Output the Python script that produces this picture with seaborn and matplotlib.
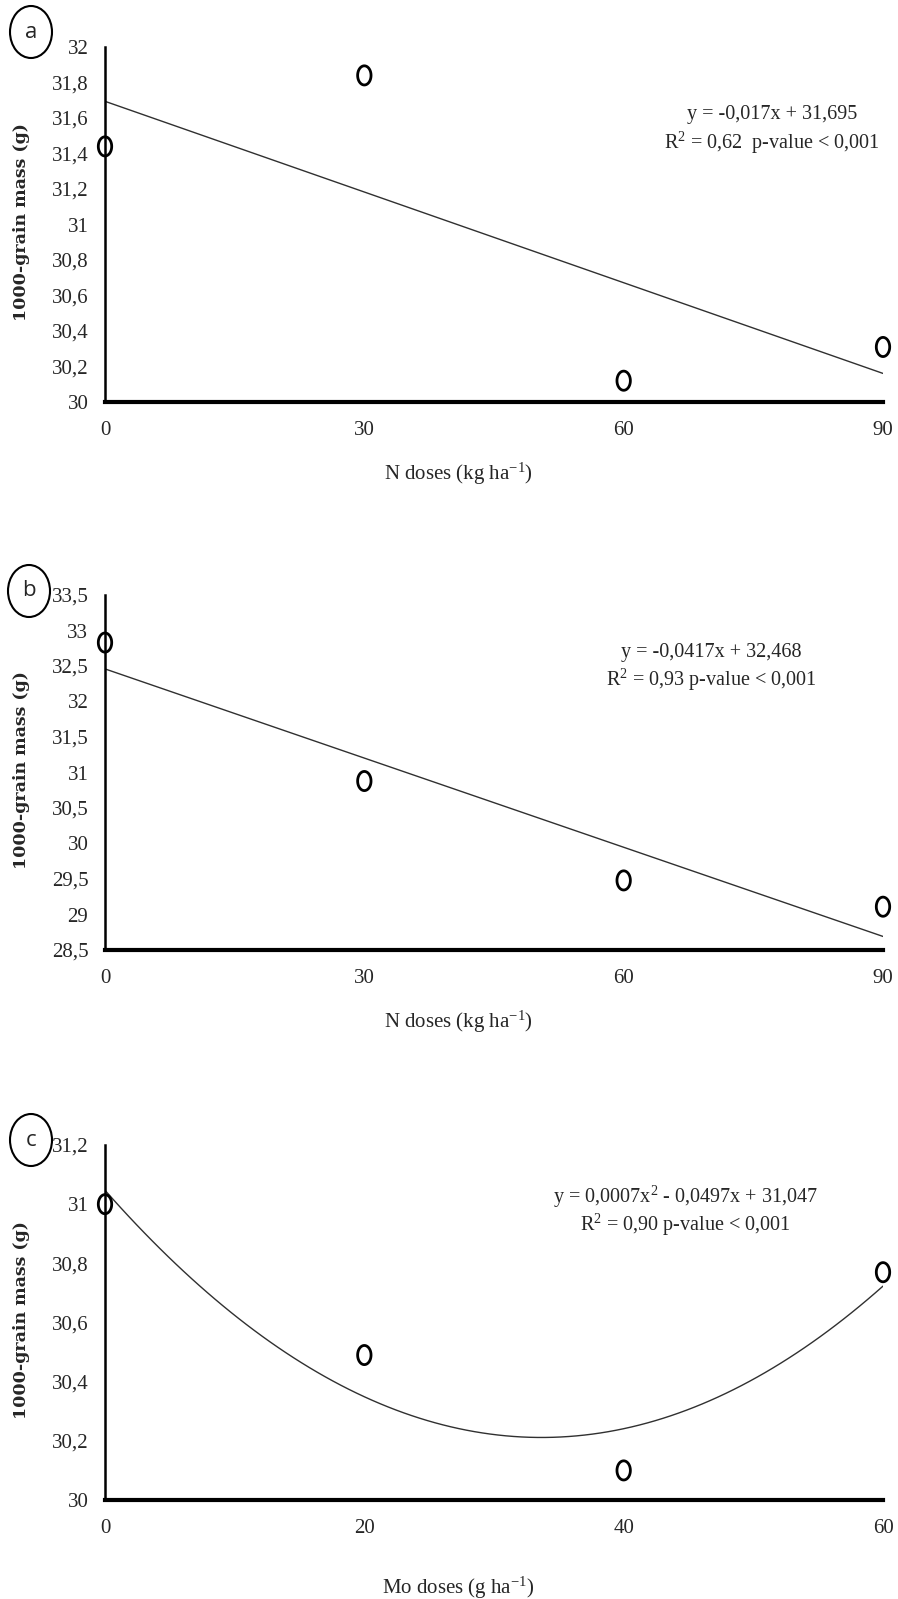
import numpy as np
import pandas as pd
import matplotlib
matplotlib.use('Agg')
import matplotlib.pyplot as plt
from matplotlib.patches import Ellipse
from matplotlib.path import Path
import seaborn as sns

# Data
n_doses = [0, 30, 60, 90]
mass_a = [31.44, 31.84, 30.12, 30.31]
mass_b = [32.83, 30.88, 29.48, 29.11]

mo_doses = [0, 20, 40, 60]
mass_c = [31.00, 30.49, 30.10, 30.77]

eq_a = ['y = -0,017x + 31,695', 'R$^2$ = 0,62  p-value < 0,001']
eq_b = ['y = -0,0417x + 32,468', 'R$^2$ = 0,93 p-value < 0,001']
eq_c = ['y = 0,0007x$^2$ - 0,0497x + 31,047', 'R$^2$ = 0,90 p-value < 0,001']

sns.set_style('white')
plt.rcParams['font.family'] = ['Liberation Serif', 'DejaVu Serif']
plt.rcParams['mathtext.fontset'] = 'custom'
plt.rcParams['mathtext.rm'] = 'Liberation Serif'
plt.rcParams['mathtext.default'] = 'regular'

# tall oval marker, like the stretched circles of the original
t = np.linspace(0, 2 * np.pi, 60)
oval = Path(np.column_stack([0.7 * np.cos(t), np.sin(t)]), closed=True)

fig = plt.figure(figsize=(8.98, 15.99), dpi=100)

panels = [
    # letter, x, y, order, ylim, ystep, xticks, xlabel, eq, axes bottom, eq pos (fig px), circle center (fig px), xlabel y
    ('a', n_doses, mass_a, 1, (30, 32), 0.2, n_doses, 'N doses (kg ha$^{-1}$)', eq_a, 1197, (772, 115), (31, 32), 474),
    ('b', n_doses, mass_b, 1, (28.5, 33.5), 0.5, n_doses, 'N doses (kg ha$^{-1}$)', eq_b, 649, (711, 652), (29, 591), 1022),
    ('c', mo_doses, mass_c, 2, (30, 31.2), 0.2, mo_doses, 'Mo doses (g ha$^{-1}$)', eq_c, 99, (685, 1197), (31, 1140), 1588),
]

W, H = 898, 1599
for letter, xs, ys, order, ylim, ystep, xticks, xlabel, eq, bottom, eqpos, cpos, xlab_y in panels:
    ax = fig.add_axes([105 / W, bottom / H, 778 / W, 355 / H])
    df = pd.DataFrame({'dose': xs, 'mass': ys})

    sns.regplot(data=df, x='dose', y='mass', order=order, ci=None, scatter=False,
                line_kws={'color': '#303030', 'lw': 1.0}, ax=ax)
    sns.scatterplot(data=df, x='dose', y='mass', marker=oval, s=190,
                    facecolor='none', edgecolor='black', linewidth=2.0,
                    clip_on=False, zorder=5, ax=ax)

    ax.set_xlim(xticks[0], xticks[-1])
    ax.set_ylim(*ylim)
    yt = np.round(np.arange(ylim[0], ylim[1] + ystep / 2, ystep), 1)
    ax.set_yticks(yt)
    ax.set_yticklabels(['{:g}'.format(v).replace('.', ',') for v in yt], fontsize=15)
    ax.set_xticks(xticks)
    ax.set_xticklabels([str(v) for v in xticks], fontsize=15)
    ax.tick_params(axis='y', length=0, pad=12)
    ax.tick_params(axis='x', length=0, pad=14)

    sns.despine(ax=ax)
    ax.spines['left'].set_linewidth(1.8)
    ax.spines['bottom'].set_linewidth(3.0)
    ax.spines['left'].set_color('black')
    ax.spines['bottom'].set_color('black')

    ax.set_xlabel('')
    ax.set_ylabel('')
    fig.text(458 / W, 1 - xlab_y / H, xlabel, ha='center', va='center', fontsize=15)
    fig.text(22 / W, (bottom + 180) / H, '1000-grain mass (g)', rotation=90,
             ha='center', va='center', fontsize=12.5, fontweight='bold',
             family=['DejaVu Serif'])

    fig.text(eqpos[0] / W, 1 - eqpos[1] / H, eq[0], ha='center', va='center', fontsize=14.5)
    fig.text(eqpos[0] / W, 1 - (eqpos[1] + 28) / H, eq[1], ha='center', va='center', fontsize=14.5)

    fig.patches.append(Ellipse((cpos[0] / W, 1 - cpos[1] / H), 42 / W, 52 / H,
                               transform=fig.transFigure, fill=False,
                               edgecolor='black', lw=1.5))
    fig.text(cpos[0] / W, 1 - cpos[1] / H, letter, ha='center', va='center',
             fontsize=16, family=['Open Sans'])

fig.savefig('out.png', dpi=100)
